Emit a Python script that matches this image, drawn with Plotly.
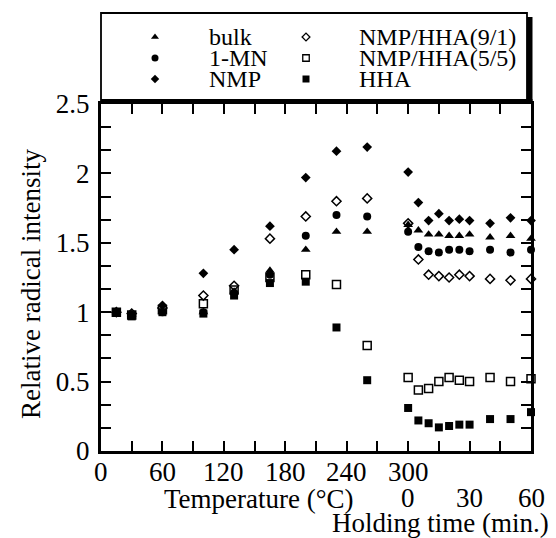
import plotly.graph_objects as go

# ---- data -------------------------------------------------------------
# heating stage: temperature in degC; holding stage: minutes at 300 degC
temperature = [15, 30, 60, 100, 130, 165, 200, 230, 260]
holding_min = [0, 5, 10, 15, 20, 25, 30, 40, 50, 60]

bulk_heat = [1.00, 0.98, 1.00, 1.00, 1.15, 1.30, 1.45, 1.58, 1.58]
bulk_hold = [1.63, 1.59, 1.56, 1.56, 1.55, 1.55, 1.56, 1.54, 1.55, 1.53]

mn_heat = [1.00, 0.98, 1.00, 1.00, 1.14, 1.27, 1.55, 1.70, 1.69]
mn_hold = [1.58, 1.47, 1.44, 1.43, 1.45, 1.45, 1.44, 1.45, 1.43, 1.45]

nmp_heat = [1.00, 0.98, 1.05, 1.28, 1.45, 1.62, 1.97, 2.16, 2.19]
nmp_hold = [2.01, 1.79, 1.66, 1.71, 1.66, 1.67, 1.66, 1.64, 1.68, 1.66]

nh91_heat = [1.00, 0.99, 1.03, 1.12, 1.19, 1.53, 1.69, 1.80, 1.82]
nh91_hold = [1.64, 1.38, 1.27, 1.26, 1.25, 1.27, 1.26, 1.24, 1.23, 1.24]

nh55_heat = [1.00, 0.98, 1.02, 1.06, 1.16, 1.25, 1.27, 1.20, 0.76]
nh55_hold = [0.53, 0.44, 0.45, 0.50, 0.53, 0.51, 0.50, 0.53, 0.50, 0.52]

hha_heat = [1.00, 0.97, 1.00, 0.99, 1.12, 1.21, 1.22, 0.89, 0.51]
hha_hold = [0.31, 0.22, 0.20, 0.17, 0.18, 0.19, 0.19, 0.23, 0.23, 0.28]

temp_ticks = [0, 60, 120, 180, 240, 300]
hold_ticks = [0, 30, 60]
y_ticks = [0, 0.5, 1, 1.5, 2, 2.5]

# ---- shared x scale: temperature axis followed by holding-time axis -----
HOLD_START = 300          # holding starts where the temperature axis ends
UNITS_PER_MIN = 2         # 15 min spans the same width as 30 degC


def hold_to_x(t):
    return HOLD_START + UNITS_PER_MIN * t


series = [
    ("bulk", bulk_heat, bulk_hold, dict(symbol="triangle-up", size=8.5, color="black")),
    ("1-MN", mn_heat, mn_hold, dict(symbol="circle", size=8, color="black")),
    ("NMP", nmp_heat, nmp_hold, dict(symbol="diamond", size=7.5, color="black")),
    ("NMP/HHA(9/1)", nh91_heat, nh91_hold,
     dict(symbol="diamond-open", size=7, color="black", line=dict(width=1.5))),
    ("NMP/HHA(5/5)", nh55_heat, nh55_hold,
     dict(symbol="square-open", size=8, color="black", line=dict(width=1.5))),
    ("HHA", hha_heat, hha_hold, dict(symbol="square", size=8, color="black")),
]

# ---- page geometry (pixels) --------------------------------------------
W, H = 556, 538
LEFT, RIGHT = 101, 531          # plot x extent
TOP, PLOT_TOP, BOTTOM = 12, 104, 451   # legend top, axes top, axes bottom
FONT = "Liberation Serif"
TEXT = dict(family=FONT, size=27, color="black")


def fx(x):
    return (x - LEFT) / (RIGHT - LEFT)


def fy(y):
    return (BOTTOM - y) / (BOTTOM - TOP)


fig = go.Figure()

for name, heat, hold, marker in series:
    xs = list(temperature) + [hold_to_x(t) for t in holding_min]
    ys = list(heat) + list(hold)
    fig.add_trace(go.Scatter(
        x=xs, y=ys, mode="markers", name=name, marker=marker,
        showlegend=False, cliponaxis=False, xaxis="x", yaxis="y",
    ))

# ---- legend drawn in its own small axes above the plot ------------------
LEG_SYMBOL_X = [155, 306]
LEG_TEXT_X = [207, 357]
LEG_ROW_Y = [37, 58, 79]
legend_symbols = {
    "triangle-up": dict(symbol="triangle-up", size=7, color="black"),
    "circle": dict(symbol="circle", size=7, color="black"),
    "diamond": dict(symbol="diamond", size=6.5, color="black"),
    "diamond-open": dict(symbol="diamond-open", size=6, color="black", line=dict(width=1.3)),
    "square-open": dict(symbol="square-open", size=6.5, color="black", line=dict(width=1.3)),
    "square": dict(symbol="square", size=7, color="black"),
}
annotations = []
for i, (name, _, _, marker) in enumerate(series):
    col, row = divmod(i, 3)
    fig.add_trace(go.Scatter(
        x=[LEG_SYMBOL_X[col]], y=[LEG_ROW_Y[row]], mode="markers",
        marker=legend_symbols[marker["symbol"]], showlegend=False,
        hoverinfo="skip", cliponaxis=False, xaxis="x2", yaxis="y2",
    ))
    annotations.append(dict(
        x=LEG_TEXT_X[col], y=LEG_ROW_Y[row], xref="x2", yref="y2",
        text=name, showarrow=False, xanchor="left", yanchor="middle",
        font=dict(family=FONT, size=24, color="black"),
    ))

# ---- axis labels ---------------------------------------------------------
x_tickvals = list(range(0, hold_to_x(60) + 1, 30))

y_tickvals = [k * 0.5 / 3 for k in range(16)]
y_ticktext = []
for v in y_tickvals:
    match = [t for t in y_ticks if abs(t - v) < 1e-9]
    y_ticktext.append(("%g" % match[0]) if match else "")

# two rows of x labels: temperature, then holding time
for t in temp_ticks:
    annotations.append(dict(
        x=t, y=fy(472), xref="x", yref="paper", text=str(t),
        showarrow=False, xanchor="center", yanchor="middle", font=TEXT,
    ))
for t in hold_ticks:
    annotations.append(dict(
        x=hold_to_x(t), y=fy(498), xref="x", yref="paper", text=str(t),
        showarrow=False, xanchor="center", yanchor="middle", font=TEXT,
    ))

annotations += [
    dict(x=fx(259), y=fy(499), xref="paper", yref="paper",
         text="Temperature (°C)", showarrow=False, xanchor="center",
         yanchor="middle", font=TEXT),
    dict(x=fx(440), y=fy(523), xref="paper", yref="paper",
         text="Holding time (min.)", showarrow=False, xanchor="center",
         yanchor="middle", font=TEXT),
    dict(x=fx(31), y=fy(284), xref="paper", yref="paper",
         text="Relative radical intensity", showarrow=False, textangle=-90,
         xanchor="center", yanchor="middle", font=TEXT),
]

# legend frame with a drop shadow on the right and bottom
shapes = [
    dict(type="rect", xref="paper", yref="paper",
         x0=fx(LEFT), x1=fx(527), y0=fy(101), y1=fy(13),
         line=dict(color="black", width=1.8), fillcolor="rgba(0,0,0,0)"),
    dict(type="rect", xref="paper", yref="paper",
         x0=fx(527), x1=fx(532.5), y0=fy(104), y1=fy(17),
         line=dict(width=0), fillcolor="black"),
    dict(type="rect", xref="paper", yref="paper",
         x0=fx(LEFT), x1=fx(532.5), y0=fy(104), y1=fy(99),
         line=dict(width=0), fillcolor="black"),
]

axis_common = dict(
    showline=True, linewidth=3, linecolor="black", mirror="ticks",
    ticks="inside", ticklen=10, tickwidth=1.5, tickcolor="black",
    showgrid=False, zeroline=False, fixedrange=True, automargin=False,
    tickfont=TEXT,
)

main_top = (BOTTOM - PLOT_TOP) / (BOTTOM - TOP)
leg_bottom = (BOTTOM - 101) / (BOTTOM - TOP)

fig.update_layout(
    template="none",
    width=W, height=H,
    margin=dict(l=LEFT, r=W - RIGHT, t=TOP, b=H - BOTTOM, pad=0,
                autoexpand=False),
    paper_bgcolor="white", plot_bgcolor="white",
    showlegend=False,
    xaxis=dict(range=[0, hold_to_x(60)], domain=[0, 1], anchor="y",
               tickmode="array", tickvals=x_tickvals, showticklabels=False,
               **axis_common),
    yaxis=dict(range=[0, 2.5], domain=[0, main_top], anchor="x",
               tickmode="array", tickvals=y_tickvals, ticktext=y_ticktext,
               ticklabelstandoff=3, **axis_common),
    xaxis2=dict(range=[LEFT, RIGHT], domain=[0, 1], anchor="y2",
                visible=False, fixedrange=True, automargin=False),
    yaxis2=dict(range=[101, TOP], domain=[leg_bottom, 1], anchor="x2",
                visible=False, fixedrange=True, automargin=False),
    annotations=annotations,
    shapes=shapes,
    font=dict(family=FONT, color="black"),
)

fig.write_html("out.html")
